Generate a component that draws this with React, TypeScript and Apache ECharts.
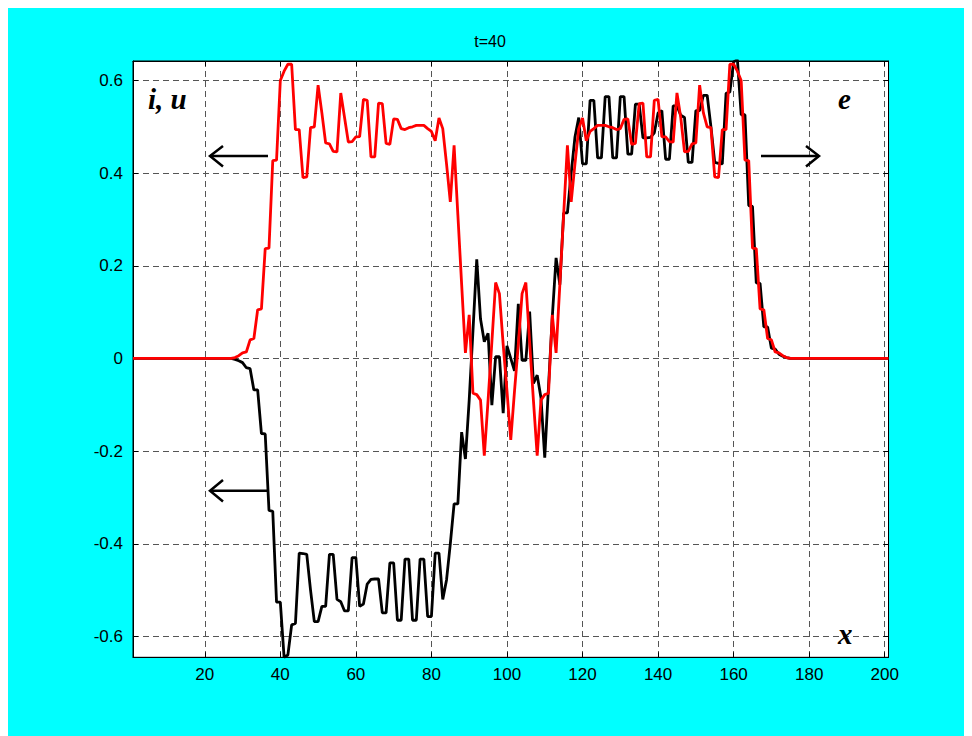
import React, { useEffect, useRef } from "react";
import * as echarts from "echarts";

// grid coordinates x = 1 .. 201
const positions: number[] = Array.from({ length: 201 }, (_, i) => i + 1);

// black curve (i, u)
const iu: number[] = [
  0, 0, 0, 0, 0, 0, 0, 0, 0, 0, 0, 0, 0, 0, 0, 0, 0, 0, 0, 0, 0, 0, 0, 0, 0, 0, 0,
  -0.002, -0.005, -0.009, -0.02, -0.022, -0.068, -0.068, -0.162, -0.163, -0.328, -0.33, -0.526, -0.526,
  -0.645, -0.64, -0.575, -0.572, -0.42, -0.421, -0.423, -0.5, -0.568, -0.568,
  -0.535, -0.535, -0.423, -0.423, -0.52, -0.525, -0.545, -0.545, -0.43, -0.43,
  -0.535, -0.53, -0.487, -0.477, -0.476, -0.476, -0.549, -0.549, -0.441, -0.441,
  -0.565, -0.565, -0.433, -0.433, -0.565, -0.565, -0.433, -0.433, -0.557, -0.557,
  -0.42, -0.42, -0.52, -0.478, -0.4, -0.314, -0.314, -0.159, -0.217, -0.09,
  0.06, 0.214, 0.085, 0.036, 0.054, -0.101, 0.004, 0.004, -0.118, 0.027, 0,
  -0.027, 0.118, -0.004, -0.004, 0.101, -0.054, -0.036, -0.085, -0.214,
  -0.06, 0.09, 0.217, 0.159, 0.314, 0.314, 0.4, 0.478, 0.52, 0.42,
  0.42, 0.557, 0.557, 0.433, 0.433, 0.565, 0.565, 0.433, 0.433, 0.565,
  0.565, 0.441, 0.441, 0.549, 0.549, 0.476, 0.476, 0.477, 0.487, 0.53,
  0.535, 0.43, 0.43, 0.545, 0.545, 0.525, 0.52, 0.423, 0.423, 0.535,
  0.535, 0.568, 0.568, 0.5, 0.423, 0.421, 0.42, 0.572, 0.575, 0.64,
  0.645, 0.526, 0.526, 0.33, 0.328, 0.163, 0.162, 0.068, 0.068, 0.022,
  0.02, 0.009, 0.005, 0.002, 0, 0, 0, 0, 0, 0,
  0, 0, 0, 0, 0, 0, 0, 0, 0, 0, 0, 0, 0, 0, 0, 0, 0, 0, 0, 0, 0,
];

// red curve (e)
const eVals: number[] = [
  0, 0, 0, 0, 0, 0, 0, 0, 0, 0, 0, 0, 0, 0, 0, 0, 0, 0, 0, 0, 0, 0, 0, 0, 0, 0, 0,
  0.002, 0.006, 0.012, 0.014, 0.04, 0.043, 0.105, 0.107, 0.237, 0.238, 0.427, 0.428, 0.6,
  0.62, 0.635, 0.635, 0.494, 0.494, 0.39, 0.392, 0.498, 0.5, 0.59,
  0.53, 0.465, 0.463, 0.447, 0.446, 0.573, 0.52, 0.467, 0.468, 0.478,
  0.479, 0.559, 0.557, 0.435, 0.435, 0.551, 0.55, 0.464, 0.462, 0.517,
  0.516, 0.496, 0.494, 0.498, 0.5, 0.503, 0.503, 0.503, 0.496, 0.49,
  0.47, 0.519, 0.496, 0.42, 0.338, 0.46, 0.31, 0.16, 0.012, 0.094,
  -0.075, -0.078, -0.09, -0.21, -0.09, 0.035, 0.164, 0.14, 0.03, -0.07, -0.176,
  -0.07, 0.03, 0.14, 0.164, 0.035, -0.09, -0.21, -0.09, -0.078,
  -0.075, 0.094, 0.012, 0.16, 0.31, 0.46, 0.338, 0.42, 0.496, 0.519,
  0.47, 0.49, 0.496, 0.503, 0.503, 0.503, 0.5, 0.498, 0.494, 0.496,
  0.516, 0.517, 0.462, 0.464, 0.55, 0.551, 0.435, 0.435, 0.557, 0.559,
  0.479, 0.478, 0.468, 0.467, 0.573, 0.52, 0.446, 0.447, 0.463, 0.465,
  0.59, 0.53, 0.5, 0.498, 0.392, 0.39, 0.494, 0.494, 0.635, 0.635,
  0.62, 0.6, 0.428, 0.427, 0.238, 0.237, 0.107, 0.105, 0.043, 0.04,
  0.014, 0.012, 0.006, 0.002, 0, 0, 0, 0, 0, 0,
  0, 0, 0, 0, 0, 0, 0, 0, 0, 0, 0, 0, 0, 0, 0, 0, 0, 0, 0, 0, 0,
];

const titleText = "t=40";
const labelLeft = "i, u";
const labelRight = "e";
const labelAxis = "x";

const FONT = '"Liberation Sans", Arial, Helvetica, sans-serif';
const SERIF = '"Liberation Serif", "Times New Roman", serif';

export default function App() {
  const ref = useRef<HTMLDivElement>(null);

  useEffect(() => {
    document.documentElement.style.overflow = "hidden";
    const chart = echarts.init(ref.current!, undefined, { renderer: "svg" });

    const gridLine = { show: true, lineStyle: { color: "#555", width: 1, type: [6, 4] as any } };
    const tickIn = { show: true, inside: true, length: 5, lineStyle: { color: "#000", width: 1 } };
    const axLine = { show: true, onZero: false, lineStyle: { color: "#000", width: 1 } };

    const arrow = (pts: number[][]) => ({
      type: "polyline",
      shape: { points: pts },
      style: { stroke: "#000", lineWidth: 2.5, fill: null },
      z: 100,
    });

    chart.setOption({
      animation: false,
      backgroundColor: "#00FFFF",
      title: {
        text: titleText,
        left: "center",
        top: 20,
        textStyle: { fontFamily: FONT, fontSize: 16, fontWeight: "normal", color: "#000" },
      },
      grid: {
        left: 125,
        top: 53,
        right: 83.5,
        bottom: 78.7,
        show: true,
        backgroundColor: "#fff",
        borderColor: "#000",
        borderWidth: 1,
      },
      xAxis: [
        {
          type: "value",
          min: 1,
          max: 201,
          splitNumber: 10,
          position: "bottom",
          axisLine: axLine,
          axisTick: tickIn,
          splitLine: gridLine,
          axisLabel: {
            color: "#000",
            fontFamily: FONT,
            fontSize: 17,
            margin: 9,
            showMinLabel: false,
            showMaxLabel: false,
          },
        },
        {
          type: "value",
          min: 1,
          max: 201,
          splitNumber: 10,
          position: "top",
          axisLine: axLine,
          axisTick: tickIn,
          splitLine: { show: false },
          axisLabel: { show: false },
        },
      ],
      yAxis: [
        {
          type: "value",
          min: -0.645,
          max: 0.642,
          splitNumber: 6,
          position: "left",
          axisLine: axLine,
          axisTick: tickIn,
          splitLine: gridLine,
          axisLabel: {
            color: "#000",
            fontFamily: FONT,
            fontSize: 17,
            margin: 10,
            showMinLabel: false,
            showMaxLabel: false,
            formatter: (v: number) => String(Number(v.toFixed(1))),
          },
        },
        {
          type: "value",
          min: -0.645,
          max: 0.642,
          splitNumber: 6,
          position: "right",
          axisLine: axLine,
          axisTick: tickIn,
          splitLine: { show: false },
          axisLabel: { show: false },
        },
      ],
      series: [
        {
          name: "i,u",
          type: "line",
          xAxisIndex: 0,
          yAxisIndex: 0,
          data: positions.map((x, k) => [x, iu[k]]),
          showSymbol: false,
          lineStyle: { color: "#000", width: 2.8 },
          z: 3,
        },
        {
          name: "e",
          type: "line",
          xAxisIndex: 0,
          yAxisIndex: 0,
          data: positions.map((x, k) => [x, eVals[k]]),
          showSymbol: false,
          lineStyle: { color: "#FF0000", width: 2.8 },
          z: 4,
        },
      ],
      graphic: [
        {
          type: "text",
          left: 140,
          top: 76,
          style: { text: labelLeft, font: `italic bold 29px ${SERIF}`, fill: "#000" },
          z: 100,
        },
        {
          type: "text",
          left: 830,
          top: 76,
          style: { text: labelRight, font: `italic bold 29px ${SERIF}`, fill: "#000" },
          z: 100,
        },
        {
          type: "text",
          left: 830,
          top: 611,
          style: { text: labelAxis, font: `italic bold 29px ${SERIF}`, fill: "#000" },
          z: 100,
        },
        arrow([[260, 148], [202, 148]]),
        arrow([[215, 138], [202, 148], [215, 158.5]]),
        arrow([[260, 482.7], [202, 482.7]]),
        arrow([[215, 472], [202, 482.7], [215, 493.5]]),
        arrow([[753, 148], [811, 148]]),
        arrow([[798, 138], [811, 148], [798, 158.5]]),
      ],
    });

    return () => chart.dispose();
  }, []);

  return <div ref={ref} style={{ width: 964, height: 728 }} />;
}
